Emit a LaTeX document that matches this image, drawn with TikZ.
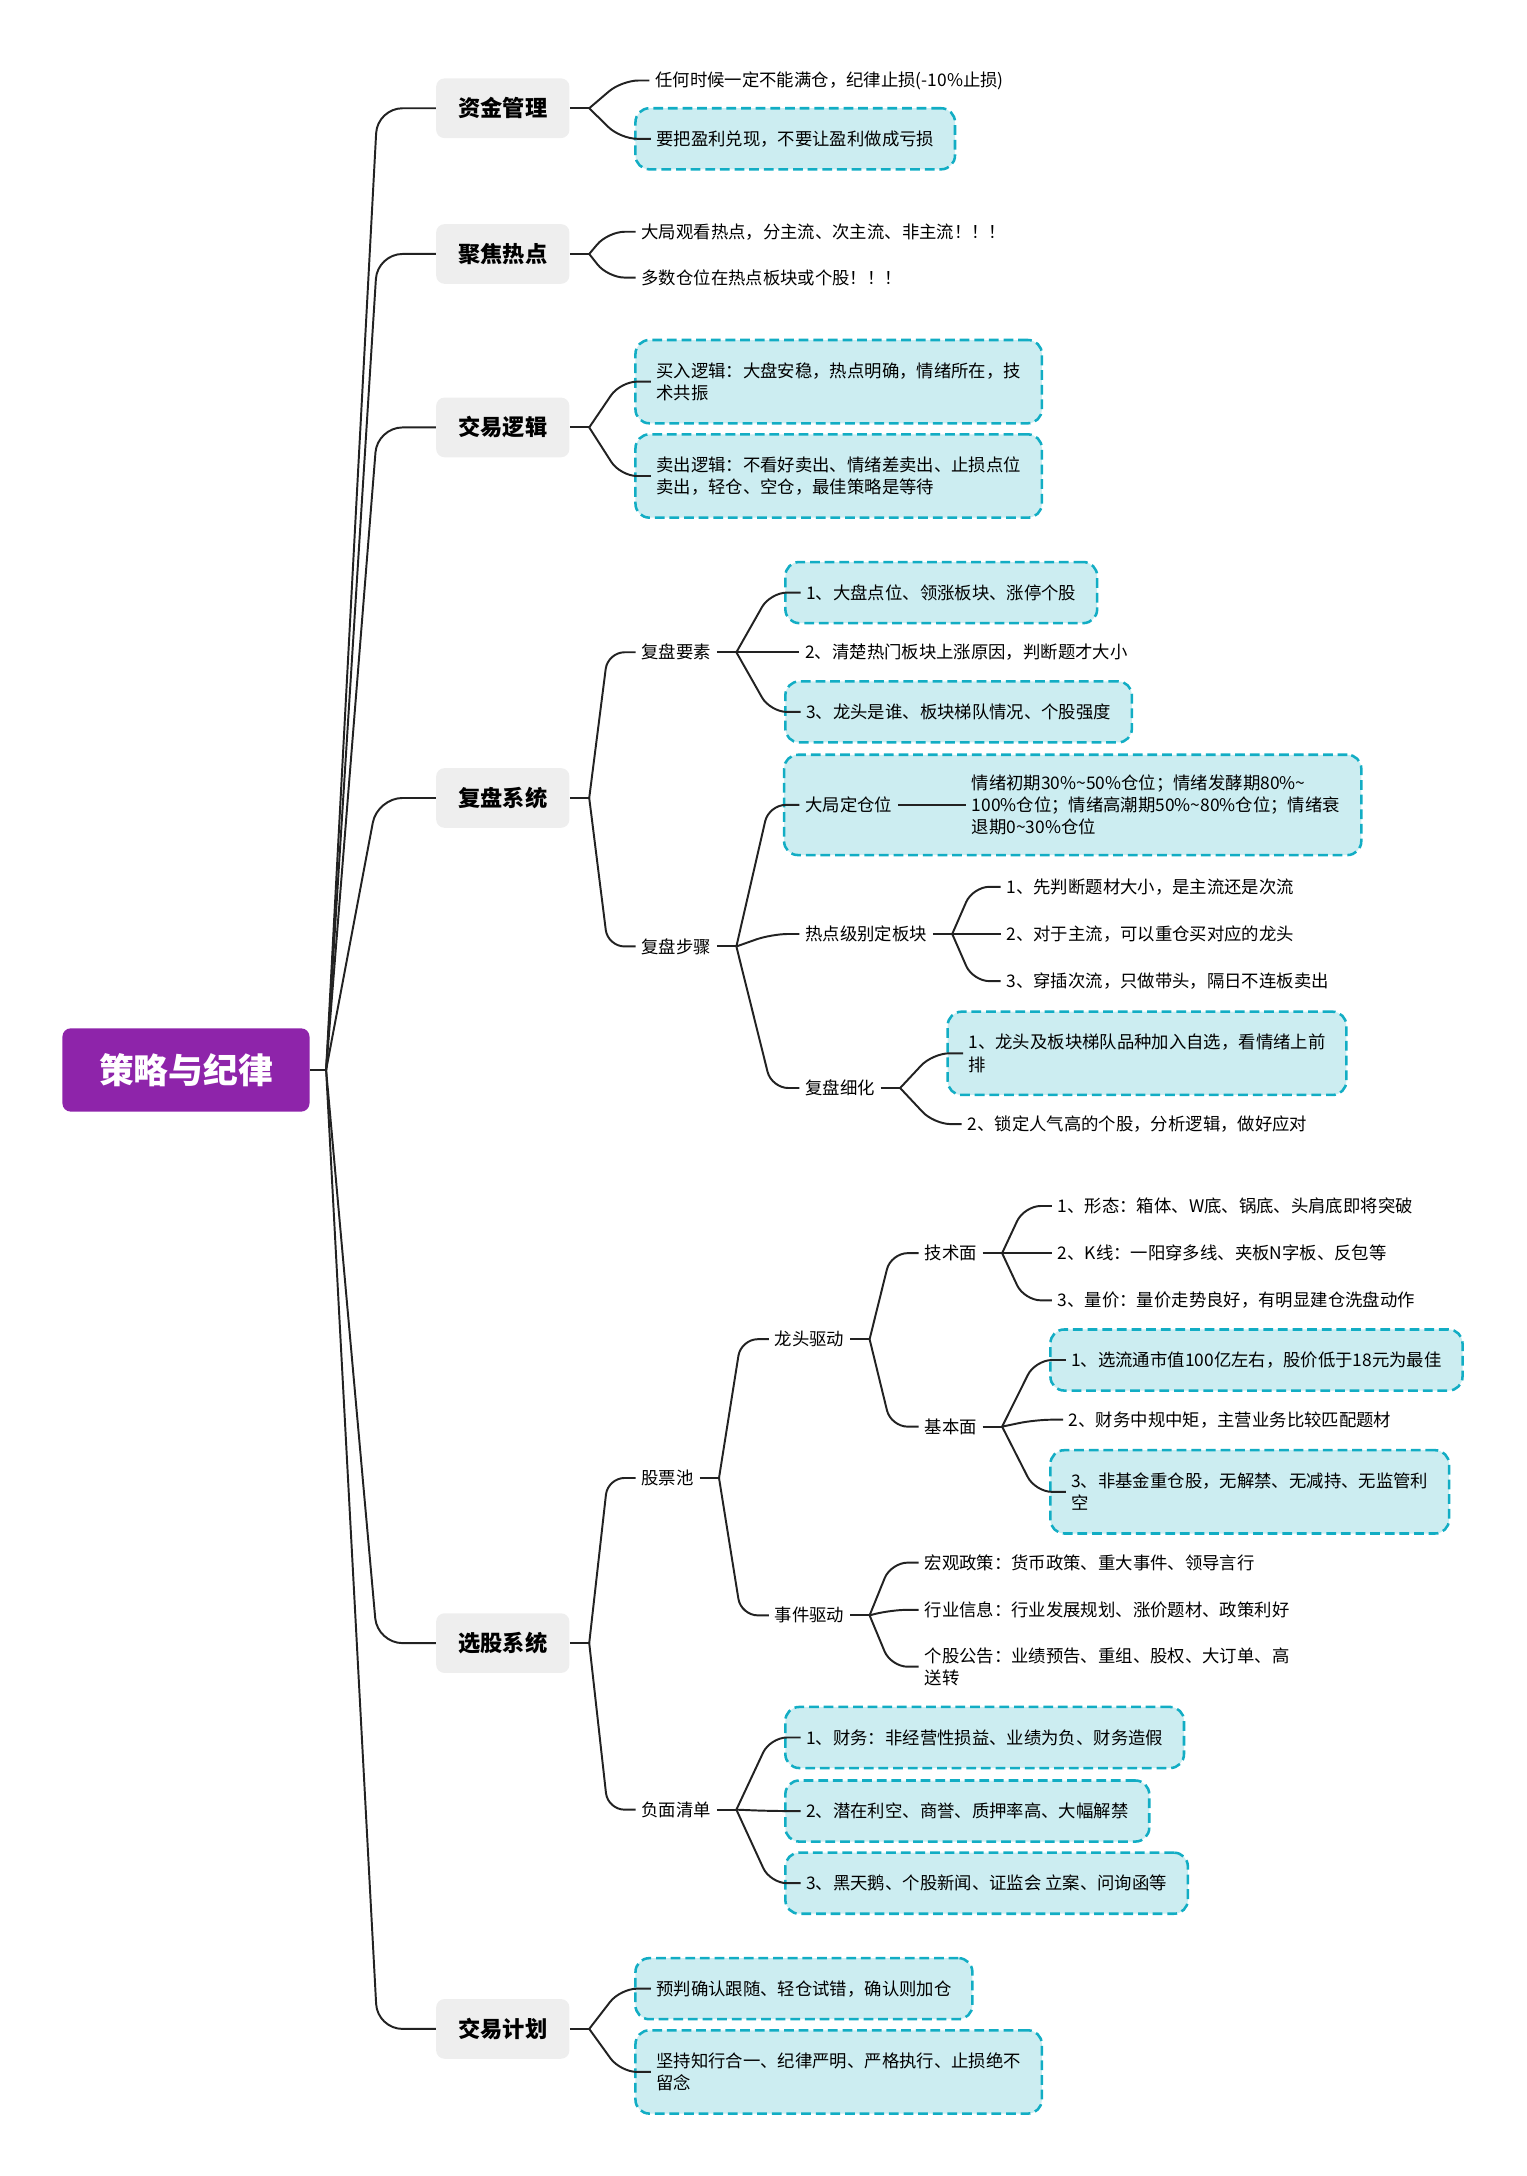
\documentclass[tikz,border=0pt]{standalone}
\usepackage{fontspec}
\setmainfont{Noto Sans CJK SC}
\usepackage{tikz}
\usetikzlibrary{calc,fit,backgrounds}
\definecolor{rootpurple}{HTML}{8E24AA}
\definecolor{topicgray}{HTML}{EEEEEE}
\definecolor{tipfill}{HTML}{CCEDF1}
\definecolor{tipline}{HTML}{12ADC4}
\definecolor{linkgray}{HTML}{222222}
\newcommand\leaffont{\fontsize{8.9pt}{11.4pt}\selectfont}
\newcommand\twig[2]{\draw[link] (#1) -- ($(#2.west)+(-20,0)$) -- (#2.west);}
\newcommand\twigbox[2]{\draw[link] (#1) -- ($(#2.west)+(-10,0)$) -- ($(#2.west)+(12,0)$);}
\tikzset{
	root/.style={fill=rootpurple, text=white, font=\fontsize{17.8pt}{20pt}\selectfont\bfseries, rounded corners=0.15cm, minimum width=4.45cm, minimum height=1.5cm},
	topic/.style={fill=topicgray, font=\fontsize{11.4pt}{13pt}\selectfont\bfseries, rounded corners=0.15cm, minimum width=2.4cm, minimum height=1.075cm, inner xsep=0pt, anchor=west},
	leaf/.style={font=\leaffont, anchor=west, align=left, inner xsep=0.1cm, inner ysep=0.05cm},
	frame/.style={fill=tipfill, draw=tipline, line width=1.3pt, dash pattern=on 5pt off 2.5pt, rounded corners=0.25cm},
	tip/.style={leaf, frame, inner xsep=0.375cm, minimum height=1.1cm},
	tiptwo/.style={tip, minimum height=1.5cm},
	link/.style={draw=linkgray, line width=1pt, rounded corners=0.3cm},
	trunk/.style={link, rounded corners=0.45cm},
}
\begin{document}
\begin{tikzpicture}[x=0.025cm, y=-0.025cm]
				\useasboundingbox (0,0) rectangle (1100,1568);
				
				\node[root] (root) at (134,771) {策略与纪律};
				\coordinate (hub) at (235,771);
				
				\node[topic] (zjgl) at (314,78) {资金管理};
				\node[topic] (jjrd) at (314,183) {聚焦热点};
				\node[topic] (jylj) at (314,308) {交易逻辑};
				\node[topic] (fpxt) at (314,575) {复盘系统};
				\node[topic] (xgxt) at (314,1184) {选股系统};
				\node[topic] (jyjh) at (314,1462) {交易计划};
				
				\node[leaf] (zj1) at (468,58) {任何时候一定不能满仓，纪律止损(-10\%止损)};
				\node[tip] (zj2) at (457,100) {要把盈利兑现，不要让盈利做成亏损};
				
				\node[leaf] (rd1) at (458,167) {大局观看热点，分主流、次主流、非主流！！！};
				\node[leaf] (rd2) at (458,200) {多数仓位在热点板块或个股！！！};
				
				\node[tiptwo] (lj1) at (457,275) {买入逻辑：大盘安稳，热点明确，情绪所在，技\\术共振};
				\node[tiptwo] (lj2) at (457,343) {卖出逻辑：不看好卖出、情绪差卖出、止损点位\\卖出，轻仓、空仓，最佳策略是等待};
				
				\node[leaf] (fpys) at (458,470) {复盘要素};
				\node[tip] (ys1) at (565,427) {1、大盘点位、领涨板块、涨停个股};
				\node[leaf] (ys2) at (576,470) {2、清楚热门板块上涨原因，判断题才大小};
				\node[tip] (ys3) at (565,513) {3、龙头是谁、板块梯队情况、个股强度};
				
				\node[leaf] (fpbz) at (458,682) {复盘步骤};
				\node[leaf] (djcw) at (576,580) {大局定仓位};
				\node[leaf] (djnote) at (696,580) {情绪初期30\%\textasciitilde50\%仓位；情绪发酵期80\%\textasciitilde\\100\%仓位；情绪高潮期50\%\textasciitilde80\%仓位；情绪衰\\退期0\textasciitilde30\%仓位};
				\begin{scope}[on background layer]
					\node[frame, fit=(djcw)(djnote), inner xsep=0.275cm, inner ysep=0.3cm] (djbox) {};
				\end{scope}
				\node[leaf] (rdjb) at (576,673) {热点级别定板块};
				\node[leaf] (hot1) at (721,639) {1、先判断题材大小，是主流还是次流};
				\node[leaf] (hot2) at (721,673) {2、对于主流，可以重仓买对应的龙头};
				\node[leaf] (hot3) at (721,707) {3、穿插次流，只做带头，隔日不连板卖出};
				\node[leaf] (fpxh) at (576,784) {复盘细化};
				\node[tiptwo] (xh1) at (682,759) {1、龙头及板块梯队品种加入自选，看情绪上前\\排};
				\node[leaf] (xh2) at (693,810) {2、锁定人气高的个股，分析逻辑，做好应对};
				
				\node[leaf] (gpc) at (458,1065) {股票池};
				\node[leaf] (ltqd) at (554,965) {龙头驱动};
				\node[leaf] (jsm) at (662,903) {技术面};
				\node[leaf] (js1) at (758,869) {1、形态：箱体、W底、锅底、头肩底即将突破};
				\node[leaf] (js2) at (758,903) {2、K线：一阳穿多线、夹板N字板、反包等};
				\node[leaf] (js3) at (758,937) {3、量价：量价走势良好，有明显建仓洗盘动作};
				\node[leaf] (jbm) at (662,1028) {基本面};
				\node[tip] (fd1) at (756,980) {1、选流通市值100亿左右，股价低于18元为最佳};
				\node[leaf] (fd2) at (766,1023) {2、财务中规中矩，主营业务比较匹配题材};
				\node[tiptwo] (fd3) at (756,1075) {3、非基金重仓股，无解禁、无减持、无监管利\\空};
				\node[leaf] (sjqd) at (554,1164) {事件驱动};
				\node[leaf] (sj1) at (662,1126) {宏观政策：货币政策、重大事件、领导言行};
				\node[leaf] (sj2) at (662,1160) {行业信息：行业发展规划、涨价题材、政策利好};
				\node[leaf] (sj3) at (662,1201) {个股公告：业绩预告、重组、股权、大订单、高\\送转};
				\node[leaf] (fmqd) at (458,1304) {负面清单};
				\node[tip] (fm1) at (565,1252) {1、财务：非经营性损益、业绩为负、财务造假};
				\node[tip] (fm2) at (565,1305) {2、潜在利空、商誉、质押率高、大幅解禁};
				\node[tip] (fm3) at (565,1357) {3、黑天鹅、个股新闻、证监会 立案、问询函等};
				
				\node[tip] (jh1) at (457,1433) {预判确认跟随、轻仓试错，确认则加仓};
				\node[tiptwo] (jh2) at (457,1493) {坚持知行合一、纪律严明、严格执行、止损绝不\\留念};
				
				\draw[link] (root.east) -- (hub);
				\foreach \m in {zjgl,jjrd,jylj,fpxt,xgxt,jyjh}
					\draw[trunk] (hub) -- ($(\m.west)+(-42,0)$) -- (\m.west);
				
				\foreach \p in {zjgl,jjrd,jylj,fpxt,xgxt,jyjh,fpys,fpbz,rdjb,fpxh,gpc,ltqd,jsm,jbm,sjqd,fmqd}{
					\coordinate (\p-j) at ($(\p.east)+(14,0)$);
					\draw[link] (\p.east) -- (\p-j);
				}
				
				\twig{zjgl-j}{zj1}
				\twigbox{zjgl-j}{zj2}
				\twig{jjrd-j}{rd1}
				\twig{jjrd-j}{rd2}
				\twigbox{jylj-j}{lj1}
				\twigbox{jylj-j}{lj2}
				
				\twig{fpxt-j}{fpys}
				\twig{fpxt-j}{fpbz}
				\twigbox{fpys-j}{ys1}
				\twig{fpys-j}{ys2}
				\twigbox{fpys-j}{ys3}
				\twigbox{fpbz-j}{djbox}
				\draw[link] (djcw.east) -- (djnote.west);
				\twig{fpbz-j}{rdjb}
				\twig{fpbz-j}{fpxh}
				\twig{rdjb-j}{hot1}
				\twig{rdjb-j}{hot2}
				\twig{rdjb-j}{hot3}
				\twigbox{fpxh-j}{xh1}
				\twig{fpxh-j}{xh2}
				
				\twig{xgxt-j}{gpc}
				\twig{xgxt-j}{fmqd}
				\twig{gpc-j}{ltqd}
				\twig{gpc-j}{sjqd}
				\twig{ltqd-j}{jsm}
				\twig{ltqd-j}{jbm}
				\twig{jsm-j}{js1}
				\twig{jsm-j}{js2}
				\twig{jsm-j}{js3}
				\twigbox{jbm-j}{fd1}
				\twig{jbm-j}{fd2}
				\twigbox{jbm-j}{fd3}
				\twig{sjqd-j}{sj1}
				\twig{sjqd-j}{sj2}
				\twig{sjqd-j}{sj3}
				\twigbox{fmqd-j}{fm1}
				\twigbox{fmqd-j}{fm2}
				\twigbox{fmqd-j}{fm3}
				
				\twigbox{jyjh-j}{jh1}
				\twigbox{jyjh-j}{jh2}
			\end{tikzpicture}
\end{document}
